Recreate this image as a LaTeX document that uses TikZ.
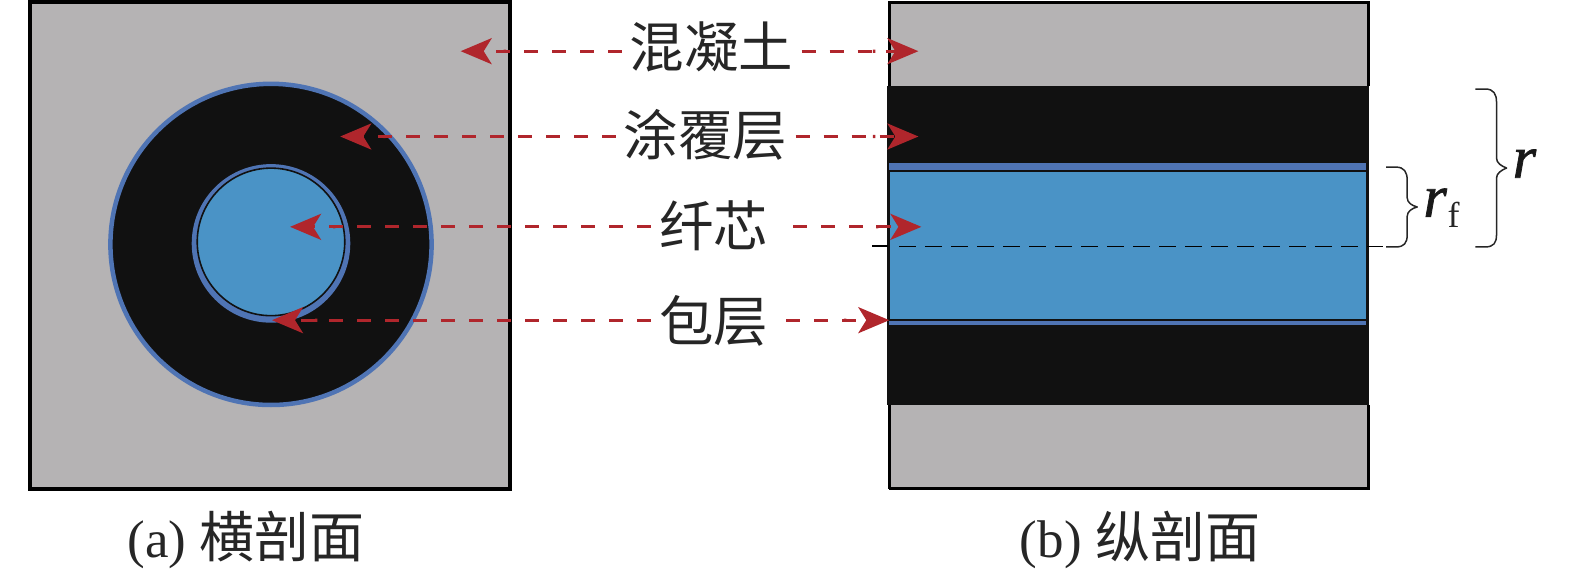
\documentclass[tikz,border=0pt]{standalone}
\usepackage{fontspec}
\setmainfont{Liberation Serif}
\newfontfamily\cjk{Noto Sans CJK SC}
\newfontfamily\rfont{Liberation Serif}[UprightFont=* Italic,FakeBold=1.2]
\usetikzlibrary{arrows.meta}
\definecolor{concrete}{HTML}{B5B3B4}
\definecolor{coat}{HTML}{111111}
\definecolor{clad}{HTML}{4F74B4}
\definecolor{core}{HTML}{4A93C6}
\definecolor{arrowred}{HTML}{B0262C}
\tikzset{
  x=1bp,y=-1bp,
  lab/.style={inner sep=0pt,font=\cjk\fontsize{54.5}{60}\selectfont,text=black!85},
  captext/.style={inner sep=0pt,font=\fontsize{53}{60}\selectfont,text=black!85},
  mathl/.style={inner sep=0pt,font=\rfont\fontsize{60}{64}\selectfont,text=black!90},
  conn/.style={draw=arrowred,line width=3.2pt,dash pattern=on 14pt off 14pt,
    -{Butt Cap[length=0pt,sep=12pt] Stealth[length=31pt,width=26pt,inset=8pt,fill=arrowred,color=arrowred]}},
  bracel/.style={draw=black!85,line width=1.5pt,line join=round},
}
\begin{document}
\begin{tikzpicture}
\useasboundingbox (0,0) rectangle (1569.2,570.9);
% left section
\draw[fill=concrete,draw=black,line width=4pt] (30,2) rectangle (508,487);
\fill[coat,draw=clad,line width=4.5bp] (270,243.5) circle[radius=160];
\fill[clad] (270,242.5) circle[radius=79];
\fill[core,draw=coat,line width=1.6pt] (270,241) circle[radius=73.5];
% right section
\fill[concrete] (886,2) rectangle (1363,487);
\draw[black,line width=3pt] (886,487) -- (886,2) -- (1363,2) -- (1363,86);
\draw[black,line width=3pt] (1363,404) -- (1363,487) -- (886,487);
\fill[coat] (884,86) rectangle (1364,404);
\fill[clad] (886,162) rectangle (1362,324);
\fill[core] (886,170) rectangle (1362,318);
\draw[coat,line width=1.8pt] (886,170) -- (1362,170);
\draw[coat,line width=1.8pt] (886,319) -- (1362,319);
\draw[coat,line width=3pt] (885.5,170) -- (885.5,319);
\draw[coat,line width=3pt] (1362.5,162) -- (1362.5,324);
% centre line
\coordinate (cl1) at (869,245.5);
\coordinate (cl2) at (885,245.5);
\coordinate (cl3) at (1362,245.5);
\coordinate (cl4) at (1378,245.5);
\draw[black,line width=2pt] (cl1) -- (cl2);
\draw[black,line width=1.8pt,dash pattern=on 17pt off 9pt] (896,245.5) -- (cl3);
\draw[black,line width=1.8pt] (cl3) -- (cl4);
% labels
\node[lab] (hnt) at (709,47) {混凝土};
\node[lab] (tfc) at (703,134) {涂覆层};
\node[lab] (xx) at (711,225) {纤芯};
\node[lab] (bc) at (711,320) {包层};
% arrow ends
\coordinate (a1l) at (459,51);  \coordinate (a1r) at (915,51);
\coordinate (a2l) at (339,136); \coordinate (a2r) at (915,136);
\coordinate (a3l) at (289,226); \coordinate (a3r) at (918,226);
\coordinate (a4l) at (271,319); \coordinate (a4r) at (886,319);
\draw[conn] (hnt.west |- a1l) ++(-8,0) -- (a1l);
\draw[conn] (hnt.east |- a1r) ++(8,0) -- (a1r);
\draw[conn] (tfc.west |- a2l) ++(-8,0) -- (a2l);
\draw[conn] (tfc.east |- a2r) ++(8,0) -- (a2r);
\draw[conn] (xx.west |- a3l) ++(-8,0) -- (a3l);
\draw[conn] (xx.east |- a3r) ++(25,0) -- (a3r);
\draw[conn] (bc.west |- a4l) ++(-8,0) -- (a4l);
\draw[conn] (bc.east |- a4r) ++(18,0) -- (a4r);
% braces
\draw[bracel] (1381,166.5) -- (1391,166.5) .. controls (1399,166.5) and (1402,171.5) .. (1402,179.5)
  -- (1402,197) .. controls (1402,202) and (1407,205) .. (1412,206.2)
  .. controls (1407,207.5) and (1402,210.5) .. (1402,215.5) -- (1402,234)
  .. controls (1402,242) and (1399,246) .. (1391,246) -- (1381,246);
\draw[bracel] (1470,88.7) -- (1480,88.7) .. controls (1488,88.7) and (1491,93.7) .. (1491,101.7)
  -- (1491,157.5) .. controls (1491,162.5) and (1496,165.5) .. (1501,167.4)
  .. controls (1496,169.5) and (1491,172.5) .. (1491,177.5) -- (1491,234)
  .. controls (1491,242) and (1488,246) .. (1480,246) -- (1470,246);
\node[mathl,anchor=base west] (rf) at (1418,216) {r};
\node[inner sep=0pt,anchor=base west,font=\fontsize{36}{40}\selectfont,text=black!85] (f) at (1442,227) {f};
\node[mathl,anchor=base west] (rr) at (1507,177) {r};
% captions
\node[captext,anchor=base west] (capa) at (127,555) {(a) {\cjk\fontsize{55}{60}\selectfont 横剖面}};
\node[captext,anchor=base west] (capb) at (1016,555) {(b) {\cjk\fontsize{55}{60}\selectfont 纵剖面}};
\end{tikzpicture}
\end{document}
